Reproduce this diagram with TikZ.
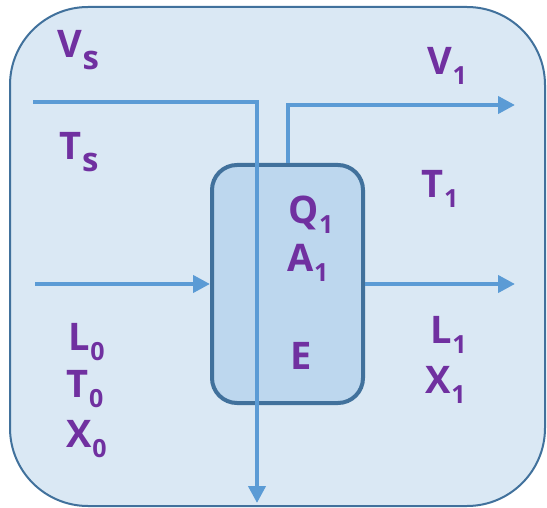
\documentclass[tikz,border=0pt]{standalone}
\usepackage{fontspec}
\setmainfont{Open Sans}
\usetikzlibrary{arrows.meta}
\definecolor{outerfill}{HTML}{DAE8F4}
\definecolor{innerfill}{HTML}{BDD7EE}
\definecolor{border}{HTML}{41719C}
\definecolor{flow}{HTML}{5B9BD5}
\definecolor{lbl}{HTML}{7030A0}
\newcommand\subd[1]{\kern1pt\raisebox{-10pt}{\fontsize{25}{25}\selectfont #1}}
\newcommand\subs[1]{\kern1pt\raisebox{-12pt}{\fontsize{33}{33}\selectfont #1}}
\tikzset{
  outerbox/.style={draw=border, fill=outerfill, line width=2pt, rounded corners=78pt},
  innerbox/.style={draw=border, fill=innerfill, line width=4pt, rounded corners=25pt,
     minimum width=151pt, minimum height=238pt, inner sep=0pt},
  flowline/.style={draw=flow, line width=4pt},
  flowarrow/.style={flowline, -{Triangle[length=17pt,width=17pt]}},
  lab/.style={text=lbl, font=\fontsize{38}{38}\selectfont\bfseries, anchor=base west, inner sep=0pt, outer sep=0pt}
}
\begin{document}
\begin{tikzpicture}[x=1pt,y=-1pt]
\useasboundingbox (0,0) rectangle (547,508);
\path[outerbox] (10,7) rectangle (545,506);
\node[innerbox] (box) at (287.5,284) {};
% coordinates
\coordinate (vsin) at (33,102);
\coordinate (vscorner) at (257,102);
\coordinate (vsout) at (257,503);
\coordinate (v1base) at (288,163);
\coordinate (v1corner) at (288,105);
\coordinate (v1out) at (515,105);
\coordinate (feedin) at (35,284);
\coordinate (l1out) at (515,284);
% flows
\draw[flowarrow] (feedin) -- (box.west);
\draw[flowarrow] (box.east) -- (l1out);
\draw[flowarrow] (v1base) -- (v1corner) -- (v1out);
\draw[flowarrow] (vsin) -- (vscorner) -- (vsout);
% labels
\node[lab] (vs) at (57,58) {V\subs{s}};
\node[lab] (ts) at (59,160) {T\subs{s}};
\node[lab] (v1) at (427,75) {V\subd{1}};
\node[lab] (t1) at (421,198) {T\subd{1}};
\node[lab] (q1) at (288,224) {Q\subd{1}};
\node[lab] (a1) at (287,272) {A\subd{1}};
\node[lab] (e) at (290,370) {E};
\node[lab] (l0) at (68,350) {L\subd{0}};
\node[lab] (t0) at (66,397) {T\subd{0}};
\node[lab] (x0) at (66,447) {X\subd{0}};
\node[lab] (l1) at (430,343) {L\subd{1}};
\node[lab] (x1) at (425,393) {X\subd{1}};
\end{tikzpicture}
\end{document}
